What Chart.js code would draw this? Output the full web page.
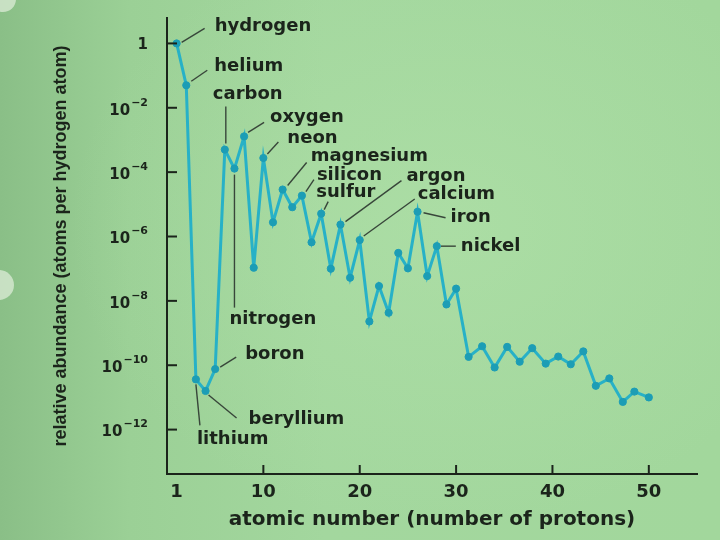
<!DOCTYPE html>
<html>
<head>
<meta charset="utf-8">
<script src="https://cdn.jsdelivr.net/npm/chart.js@4/dist/chart.umd.min.js"></script>
<style>
html, body { margin:0; padding:0; width:720px; height:540px; overflow:hidden; }
body {
  background:
    radial-gradient(ellipse 75% 80% at 62% 42%, rgba(178,226,170,0.55) 0%, rgba(178,226,170,0) 70%),
    linear-gradient(90deg, #8abf87 0%, #9bd096 18%, #a3d79e 45%, #a2d79c 100%);
}
#wrap { position:relative; width:720px; height:540px; }
.spot { position:absolute; border-radius:50%; background:rgba(215,232,210,0.8); }
canvas { position:absolute; left:0; top:0; }
</style>
</head>
<body>
<div id="wrap">
  <div class="spot" style="left:-16px; top:270px; width:30px; height:30px;"></div>
  <div class="spot" style="left:-10px; top:-14px; width:26px; height:26px;"></div>
  <canvas id="c" width="720" height="540"></canvas>
</div>
<script>
// ---- data ----
const atomicNumbers = [1,2,3,4,5,6,7,8,9,10,11,12,13,14,15,16,17,18,19,20,21,22,23,24,25,26,27,28,29,30,
  31.3,32.7,34,35.3,36.6,37.9,39.3,40.6,41.9,43.2,44.5,45.9,47.3,48.5,50];
const log10Abundance = [0,-1.30,-10.44,-10.80,-10.12,-3.30,-3.89,-2.89,-6.97,-3.56,
  -5.56,-4.54,-5.09,-4.73,-6.18,-5.29,-7.00,-5.63,-7.28,-6.11,
  -8.64,-7.54,-8.37,-6.51,-6.99,-5.23,-7.23,-6.30,-8.11,-7.62,
  -9.74,-9.41,-10.07,-9.43,-9.89,-9.47,-9.95,-9.73,-9.97,-9.57,
  -10.64,-10.41,-11.14,-10.82,-11.00];
const yTickExponents = [0,-2,-4,-6,-8,-10,-12];
const xTickValues = [1,10,20,30,40,50];
const xAxisTitle = 'atomic number (number of protons)';
const yAxisTitle = 'relative abundance (atoms per hydrogen atom)';
const labelNames = ['hydrogen','helium','lithium','beryllium','boron','carbon','nitrogen','oxygen','neon',
  'magnesium','silicon','sulfur','argon','calcium','iron','nickel'];
const labelAtomicNumbers = [1,2,3,4,5,6,7,8,10,12,14,16,18,20,26,28];

// ---- layout of annotation text (pixel offsets from the labelled point) ----
// [leaderStartDx, leaderStartDy, leaderEndDx, leaderEndDy, textDx, textDy]
const labelLayout = {
  hydrogen:  [5,-1, 28,-15, 38,-17],
  helium:    [5,-4, 21,-15, 28,-19],
  lithium:   [0,5, 4,46, 1,60],
  beryllium: [3,4, 31,27, 43,28],
  boron:     [5,-2, 21,-12, 30,-15],
  carbon:    [1,-6, 1,-43, -12,-55],
  nitrogen:  [0,6, 0,139, -5,151],
  oxygen:    [4,-4, 20,-14, 26,-19],
  neon:      [4,-4, 15,-16, 24,-20],
  magnesium: [5,-4, 24,-27, 28,-33],
  silicon:   [4,-4, 12,-16, 15,-20],
  sulfur:    [3,-4, 7,-12, -5,-21],
  argon:     [5,-3, 61,-44, 66,-48],
  calcium:   [4,-4, 55,-41, 58,-46],
  iron:      [6,1, 28,6, 33,6],
  nickel:    [4,0, 19,0, 24,0]
};

const inkColor = '#1b241b';
const leaderColor = '#38463a';
const lineColor = '#27b1c7';
const pointColor = '#1c9db5';

const points = atomicNumbers.map((x, i) => ({ x: x, y: Math.pow(10, log10Abundance[i]) }));

function pointPixel(chart, z) {
  const i = atomicNumbers.indexOf(z);
  return {
    x: chart.scales.x.getPixelForValue(atomicNumbers[i]),
    y: chart.scales.y.getPixelForValue(Math.pow(10, log10Abundance[i]))
  };
}

const decorations = {
  id: 'decorations',
  beforeDatasetsDraw(chart) {
    const ctx = chart.ctx;
    ctx.save();
    ctx.strokeStyle = leaderColor;
    ctx.lineWidth = 1.4;
    labelNames.forEach((name, k) => {
      const p = pointPixel(chart, labelAtomicNumbers[k]);
      const L = labelLayout[name];
      ctx.beginPath();
      ctx.moveTo(p.x + L[0], p.y + L[1]);
      ctx.lineTo(p.x + L[2], p.y + L[3]);
      ctx.stroke();
    });
    ctx.restore();
  },
  afterDraw(chart) {
    const ctx = chart.ctx;
    const area = chart.chartArea;
    const ys = chart.scales.y, xs = chart.scales.x;
    ctx.save();
    // y tick marks (inward) and labels
    ctx.strokeStyle = inkColor;
    ctx.lineWidth = 2;
    ctx.fillStyle = inkColor;
    yTickExponents.forEach(e => {
      const py = ys.getPixelForValue(Math.pow(10, e));
      ctx.beginPath();
      ctx.moveTo(area.left, py);
      ctx.lineTo(area.left + 10, py);
      ctx.stroke();
      const right = 148;
      if (e === 0) {
        ctx.font = 'bold 15px "DejaVu Sans"';
        ctx.textAlign = 'right';
        ctx.textBaseline = 'middle';
        ctx.fillText('1', right, py + 2);
      } else {
        const expText = '\u2212' + Math.abs(e);
        ctx.font = 'bold 11px "DejaVu Sans"';
        ctx.textAlign = 'right';
        ctx.textBaseline = 'middle';
        ctx.fillText(expText, right, py - 5);
        const w = ctx.measureText(expText).width;
        ctx.font = 'bold 15px "DejaVu Sans"';
        ctx.fillText('10', right - w - 1, py + 3);
      }
    });
    // x tick marks (inward)
    xTickValues.forEach(v => {
      if (v === 1) return;
      const px = xs.getPixelForValue(v);
      ctx.beginPath();
      ctx.moveTo(px, area.bottom);
      ctx.lineTo(px, area.bottom - 9);
      ctx.stroke();
    });
    // element labels
    ctx.font = 'bold 18px "DejaVu Sans"';
    ctx.textAlign = 'left';
    ctx.textBaseline = 'middle';
    labelNames.forEach((name, k) => {
      const p = pointPixel(chart, labelAtomicNumbers[k]);
      const L = labelLayout[name];
      ctx.fillText(name, p.x + L[4], p.y + L[5]);
    });
    ctx.restore();
  }
};

new Chart(document.getElementById('c'), {
  type: 'line',
  data: {
    datasets: [{
      data: points,
      borderColor: lineColor,
      borderWidth: 3,
      pointRadius: 3.6,
      pointBackgroundColor: pointColor,
      pointBorderColor: pointColor,
      pointBorderWidth: 1,
      tension: 0,
      fill: false
    }]
  },
  options: {
    responsive: false,
    animation: false,
    devicePixelRatio: 1,
    layout: { padding: { left: 0, right: 23, top: 18, bottom: 0 } },
    plugins: { legend: { display: false }, tooltip: { enabled: false } },
    scales: {
      x: {
        type: 'linear',
        min: 0,
        max: 55,
        afterBuildTicks: s => { s.ticks = xTickValues.map(v => ({ value: v })); },
        afterFit: s => { s.height = 66; },
        grid: { display: false, drawTicks: false },
        border: { display: true, color: inkColor, width: 2 },
        ticks: {
          padding: 8, autoSkip: false, maxRotation: 0, color: inkColor,
          font: { family: 'DejaVu Sans', weight: 'bold', size: 18 },
          callback: v => String(v)
        },
        title: {
          display: true, text: xAxisTitle, color: inkColor,
          font: { family: 'DejaVu Sans', weight: 'bold', size: 20 },
          padding: { top: 0, bottom: 8 }
        }
      },
      y: {
        type: 'logarithmic',
        min: Math.pow(10, -13.38),
        max: Math.pow(10, 0.79),
        afterBuildTicks: s => { s.ticks = yTickExponents.map(e => ({ value: Math.pow(10, e) })); },
        afterFit: s => { s.width = 167; },
        grid: { display: false, drawTicks: false },
        border: { display: true, color: inkColor, width: 2 },
        ticks: { display: false },
        title: {
          display: true, text: yAxisTitle, color: inkColor,
          font: { family: 'Liberation Sans', weight: 'bold', size: 18 },
          padding: { top: 50, bottom: 0 }
        }
      }
    }
  },
  plugins: [decorations]
});
</script>
</body>
</html>
